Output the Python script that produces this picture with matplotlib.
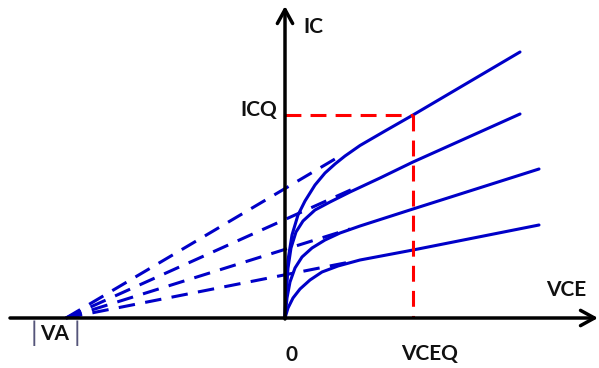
import matplotlib
matplotlib.use('Agg')
import matplotlib.pyplot as plt

# ---- data (VCE, IC in arbitrary units; origin at 0) ----
va = -219          # Early voltage intercept (negative VCE axis)
vceq = 128
icq = 203

c1_v = [0, 1, 3, 7, 13, 20, 30, 40, 50, 60, 75, 100, 128, 235]
c1_i = [0, 28, 58, 83, 103, 117, 133, 145, 154, 162, 172.5, 187, 203, 266]
c2_v = [0, 1, 3, 6, 11, 18, 30, 45, 65, 95, 128, 235]
c2_i = [0, 23, 50, 70, 86, 97, 108, 116, 126, 140, 156, 204]
c3_v = [0, 2, 5, 10, 17, 27, 40, 55, 75, 128, 254]
c3_i = [0, 20, 36, 50, 61, 70, 78, 85, 92, 109, 149]
c4_v = [0, 3, 8, 15, 25, 37, 53, 75, 128, 254]
c4_i = [0, 10, 20, 29, 38, 46, 52, 58, 68, 93]
curves = [(c1_v, c1_i), (c2_v, c2_i), (c3_v, c3_i), (c4_v, c4_i)]

dash_end_v = [50, 70, 65, 70]
dash_end_i = [159, 130, 89, 57]

BLUE = '#0000c8'
RED = '#ff0000'

plt.rcParams['font.family'] = ['Lato', 'DejaVu Sans']

fig = plt.figure(figsize=(5.99, 3.68), dpi=100)
ax = fig.add_axes([0, 0, 1, 1])
ax.set_xlim(-285, 314)
ax.set_ylim(-50, 318)
ax.axis('off')

# dashed extrapolations to |VA|
for ev, ei in zip(dash_end_v, dash_end_i):
    ax.plot([va, ev], [0, ei], color=BLUE, lw=2.2,
            linestyle=(0, (5.4, 3.4)), solid_capstyle='butt', zorder=2)

# output characteristics
for v, i in curves:
    ax.plot(v, i, color=BLUE, lw=2.2, solid_joinstyle='round',
            solid_capstyle='round', zorder=3)

# Q-point projections
ax.plot([0, vceq], [icq, icq], color=RED, lw=2.2,
        linestyle=(0, (5.2, 3.0)), zorder=4)
ax.plot([vceq, vceq], [icq, 0], color=RED, lw=2.2,
        linestyle=(0, (5.2, 3.0)), zorder=4)

# axes with arrows
arrow = dict(arrowstyle='->,head_length=1.0,head_width=0.55', lw=2.5,
             color='black', shrinkA=0, shrinkB=0)
ax.annotate('', xy=(313, 0), xytext=(-275, 0), arrowprops=arrow, zorder=5)
ax.annotate('', xy=(0, 312), xytext=(0, -1), arrowprops=arrow, zorder=5)

# labels
tk = dict(fontsize=15, fontweight='bold', color='#111111')
ax.text(18, 291, 'IC', ha='left', va='center', **tk)
ax.text(-8, 208, 'ICQ', ha='right', va='center', **tk)
ax.text(281, 28, 'VCE', ha='center', va='center', **tk)
ax.text(vceq + 17, -36, 'VCEQ', ha='center', va='center', **tk)
ax.text(6, -37, '0', ha='center', va='center', **tk)
ax.text(-230, -16, 'VA', ha='center', va='center', **tk)
bar = dict(fontsize=19, fontweight='normal', color='#55557a',
           ha='center', va='center')
ax.text(-251, -15, '|', **bar)
ax.text(-208, -15, '|', **bar)

fig.savefig('out.png', dpi=100)
